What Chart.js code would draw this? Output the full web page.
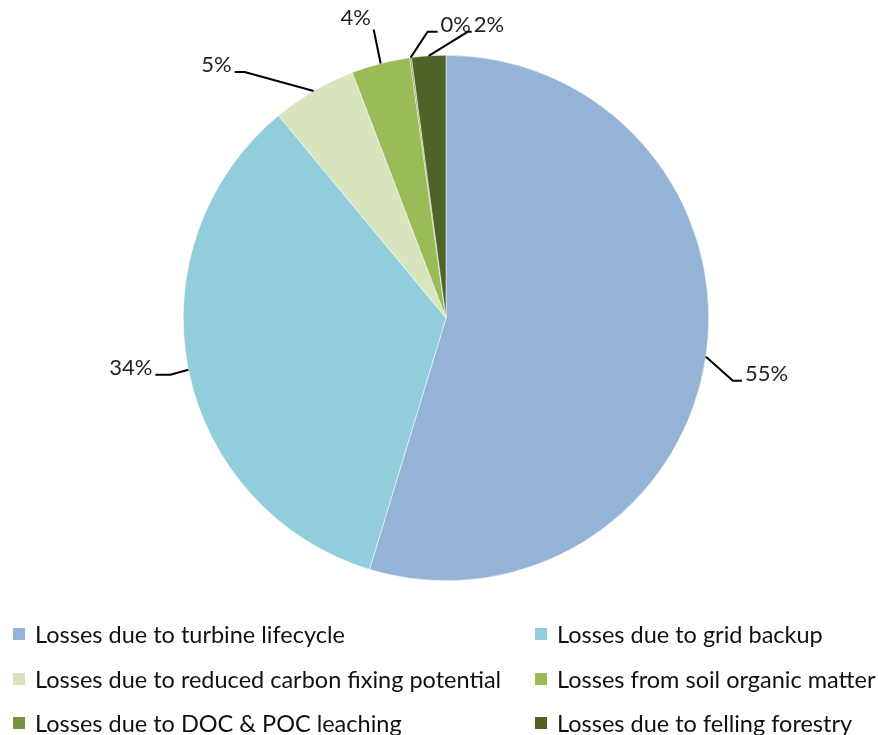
<!DOCTYPE html>
<html>
<head>
<meta charset="utf-8">
<script src="https://cdn.jsdelivr.net/npm/chart.js@4"></script>
<style>
	html, body { margin: 0; padding: 0; background: #fff; }
	#wrap { width: 878px; height: 735px; }
</style>
</head>
<body>
<div id="wrap"><canvas id="pie-chart" width="878" height="735"></canvas></div>
<script>
const categories = [
	"Losses due to turbine lifecycle",
	"Losses due to grid backup",
	"Losses due to reduced carbon fixing potential",
	"Losses from soil organic matter",
	"Losses due to DOC & POC leaching",
	"Losses due to felling forestry",
];
const shares = [54.7, 34.3, 5.2, 3.6, 0.1, 2.1];
const percentLabels = ["55%", "34%", "5%", "4%", "0%", "2%"];
const sliceColors = ["#95b3d7", "#92cddc", "#d7e4bd", "#9bbb59", "#77933c", "#4f6228"];

// leader line: elbow offset from the arc point, then a short horizontal run, then the text
const leaderStyles = [
	{ ex: 27, ey: 24, run: 9, align: "left", tx: 3, ty: 0 },
	{ ex: -18, ey: 5, run: -15, align: "right", tx: -3, ty: 0 },
	{ ex: -69, ey: -19, run: -10, align: "right", tx: -3, ty: 0 },
	{ ex: -7, ey: -34, run: 0, align: "center", tx: -18, ty: -5 },
	{ ex: 17, ey: -26, run: 10, align: "left", tx: 3, ty: 0 },
	{ ex: 39, ey: -24, run: 4, align: "left", tx: 2, ty: 0 },
];

const labelFont = "22px Lato, 'Open Sans', sans-serif";
const legendFont = "23.5px Lato, 'Open Sans', sans-serif";

const leaderPlugin = {
	id: "leaderLabels",
	afterDatasetsDraw(chart) {
		const ctx = chart.ctx;
		const arcs = chart.getDatasetMeta(0).data;
		ctx.save();
		ctx.font = labelFont;
		ctx.fillStyle = "#1f1f1f";
		ctx.strokeStyle = "#000";
		ctx.lineWidth = 2;
		arcs.forEach((arc, i) => {
			const props = arc.getProps(["x", "y", "startAngle", "endAngle", "outerRadius"], true);
			const mid = (props.startAngle + props.endAngle) / 2;
			const ax = props.x + Math.cos(mid) * props.outerRadius;
			const ay = props.y + Math.sin(mid) * props.outerRadius;
			const s = leaderStyles[i];
			const bx = ax + s.ex;
			const by = ay + s.ey;
			const cx = bx + s.run;
			ctx.beginPath();
			ctx.moveTo(ax, ay);
			ctx.lineTo(bx, by);
			ctx.lineTo(cx, by);
			ctx.stroke();
			ctx.textAlign = s.align;
			ctx.textBaseline = "alphabetic";
			ctx.fillText(percentLabels[i], cx + s.tx, by + s.ty);
		});
		ctx.restore();
	},
};

const legendPlugin = {
	id: "gridLegend",
	afterDraw(chart) {
		const ctx = chart.ctx;
		const colX = [13, 535];
		const rowY = [634, 679, 723];
		ctx.save();
		ctx.font = legendFont;
		ctx.textBaseline = "middle";
		ctx.textAlign = "left";
		categories.forEach((name, i) => {
			const x = colX[i % 2];
			const y = rowY[Math.floor(i / 2)];
			ctx.fillStyle = sliceColors[i];
			ctx.fillRect(x, y - 6, 12, 12);
			ctx.fillStyle = "#111";
			ctx.fillText(name, x + 22, y + 1);
		});
		ctx.restore();
	},
};

new Chart(document.getElementById("pie-chart"), {
	type: "pie",
	data: {
		labels: categories,
		datasets: [{
			data: shares,
			backgroundColor: sliceColors,
			borderColor: "#ffffff",
			borderWidth: 0.5,
		}],
	},
	options: {
		responsive: false,
		animation: false,
		layout: { padding: { top: 55, bottom: 154, left: 183, right: 169 } },
		plugins: {
			legend: { display: false },
			tooltip: { enabled: false },
		},
	},
	plugins: [leaderPlugin, legendPlugin],
});
</script>
</body>
</html>
